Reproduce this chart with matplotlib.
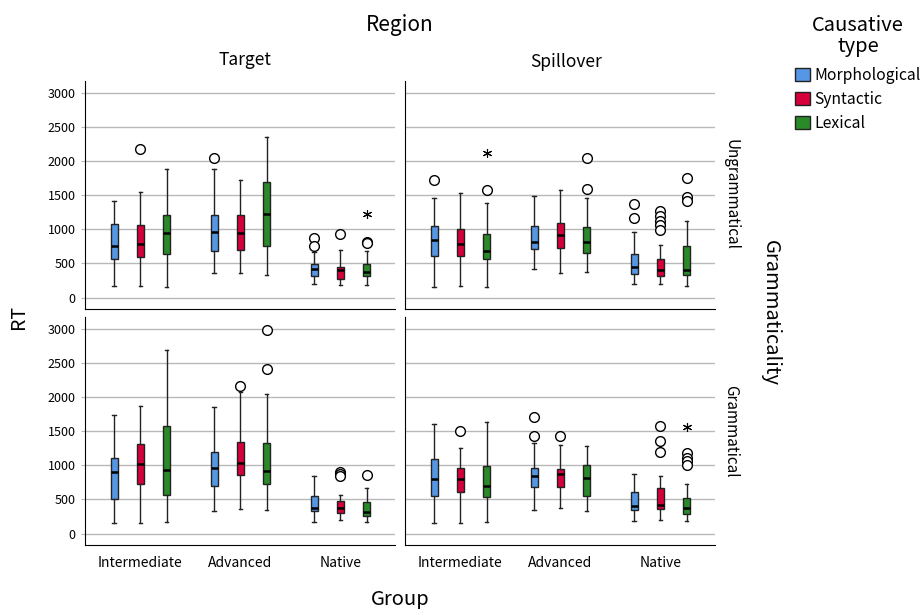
import matplotlib
matplotlib.use('Agg')
import matplotlib.pyplot as plt
from matplotlib.patches import Patch

plt.rcParams['font.family'] = ['Noto Sans CJK KR', 'DejaVu Sans']

groups = ['Intermediate', 'Advanced', 'Native']
types = ['Morphological', 'Syntactic', 'Lexical']
colors = ['#5597e4', '#d6003b', '#2a8a2a']
regions = ['Target', 'Spillover']
gram_levels = ['Ungrammatical', 'Grammatical']

# each row: [whislo, q1, med, q3, whishi], order: group x type
target_ungram = [
	[171, 557, 752, 1075, 1407], [166, 596, 782, 1055, 1539], [147, 640, 943, 1202, 1886],
	[366, 674, 958, 1202, 1876], [352, 694, 948, 1202, 1715], [332, 752, 1226, 1686, 2350],
	[195, 317, 415, 488, 669], [180, 278, 400, 449, 693], [180, 308, 376, 484, 684],
]
target_ungram_out = [[], [2179], [], [2042], [], [], [874, 752], [928], [815, 796]]
target_ungram_ext = [[], [], [], [], [], [], [], [], [1216]]

spill_ungram = [
	[151, 601, 845, 1046, 1451], [176, 606, 782, 997, 1534], [151, 562, 684, 923, 1388],
	[420, 708, 811, 1041, 1485], [362, 728, 914, 1085, 1578], [376, 655, 806, 1026, 1451],
	[191, 342, 450, 635, 963], [195, 313, 401, 567, 767], [171, 327, 401, 752, 1124],
]
spill_ungram_out = [[1725], [], [1568], [], [], [2037, 1588],
	[1368, 1168], [1265, 1192, 1124, 1055, 987], [1749, 1476, 1417]]
spill_ungram_ext = [[], [], [2121], [], [], [], [], [], []]

target_gram = [
	[147, 504, 905, 1101, 1732], [157, 729, 1023, 1307, 1870], [171, 563, 925, 1571, 2692],
	[323, 700, 954, 1194, 1855], [352, 861, 1033, 1346, 2065], [347, 724, 910, 1326, 2036],
	[176, 333, 373, 543, 847], [196, 299, 377, 480, 568], [176, 255, 314, 455, 661],
]
target_gram_out = [[], [], [], [], [2158], [2976, 2403], [], [896, 871, 847], [857]]
target_gram_ext = [[], [], [], [], [], [], [], [], []]

spill_gram = [
	[147, 548, 798, 1086, 1600], [157, 602, 793, 954, 1258], [171, 538, 690, 984, 1630],
	[338, 675, 837, 954, 1321], [367, 675, 866, 949, 1292], [323, 553, 817, 1003, 1282],
	[186, 347, 401, 602, 871], [196, 362, 416, 666, 837], [181, 279, 367, 514, 719],
]
spill_gram_out = [[], [1507], [], [1703, 1429], [1434], [], [], [1576, 1360, 1199],
	[1184, 1111, 1057, 1008]]
spill_gram_ext = [[], [], [], [], [], [], [], [], [1561]]

panels = [
	[(target_ungram, target_ungram_out, target_ungram_ext), (spill_ungram, spill_ungram_out, spill_ungram_ext)],
	[(target_gram, target_gram_out, target_gram_ext), (spill_gram, spill_gram_out, spill_gram_ext)],
]

W, H = 921, 609
fig = plt.figure(figsize=(W / 100, H / 100), dpi=100)

lefts = [85.3, 405.3]
tops = [81, 317]
aw, ah = 310, 228

offsets = [-0.263, 0, 0.263]
for r in range(2):
	for c in range(2):
		ax = fig.add_axes([lefts[c] / W, 1 - (tops[r] + ah) / H, aw / W, ah / H])
		stats, outs, exts = panels[r][c]
		bxs = []
		pos = []
		cols = []
		for gi in range(3):
			for ti in range(3):
				k = gi * 3 + ti
				lo, q1, med, q3, hi = stats[k]
				bxs.append({'whislo': lo, 'q1': q1, 'med': med, 'q3': q3, 'whishi': hi, 'fliers': outs[k]})
				pos.append(gi + offsets[ti])
				cols.append(colors[ti])
		art = ax.bxp(bxs, positions=pos, widths=0.07, patch_artist=True, manage_ticks=False,
			boxprops=dict(edgecolor='#222222', linewidth=1.0),
			whiskerprops=dict(color='#222222', linewidth=1.0),
			capprops=dict(color='#222222', linewidth=1.0),
			medianprops=dict(color='black', linewidth=1.8),
			flierprops=dict(marker='o', markerfacecolor='white', markeredgecolor='black',
				markersize=7, markeredgewidth=1.0))
		for b, col in zip(art['boxes'], cols):
			b.set_facecolor(col)
		for k in range(9):
			if exts[k]:
				ax.plot([pos[k]] * len(exts[k]), exts[k], linestyle='none', marker=(6, 2, 0),
					color='black', markersize=6.5, markeredgewidth=0.8)
		ax.set_xlim(-0.55, 2.55)
		ax.set_ylim(-168, 3170)
		ax.set_yticks(range(0, 3001, 500))
		ax.yaxis.grid(True, color='#b8b8b8', linewidth=1.0)
		ax.set_axisbelow(True)
		for s in ['top', 'right']:
			ax.spines[s].set_visible(False)
		ax.spines['left'].set_color('black')
		ax.spines['bottom'].set_color('black')
		ax.tick_params(axis='y', length=3, color='#b8b8b8', labelsize=9, pad=4)
		ax.tick_params(axis='x', length=0, labelsize=10, pad=8)
		if c == 1:
			ax.set_yticklabels([])
			ax.tick_params(axis='y', length=0)
		if r == 1:
			ax.set_xticks(range(3))
			ax.set_xticklabels(groups)
		else:
			ax.set_xticks([])

fig.text(400 / W, 1 - 25 / H, 'Region', ha='center', va='center', fontsize=15)
fig.text(245 / W, 1 - 60 / H, regions[0], ha='center', va='center', fontsize=12.5)
fig.text(566 / W, 1 - 62 / H, regions[1], ha='center', va='center', fontsize=12.5)
fig.text(731 / W, 1 - 195 / H, gram_levels[0], ha='center', va='center', rotation=-90, fontsize=11)
fig.text(731 / W, 1 - 431 / H, gram_levels[1], ha='center', va='center', rotation=-90, fontsize=11)
fig.text(770 / W, 1 - 313 / H, 'Grammaticality', ha='center', va='center', rotation=-90, fontsize=14.5)
fig.text(18 / W, 1 - 317 / H, 'RT', ha='center', va='center', rotation=90, fontsize=14)
fig.text(400 / W, 1 - 600 / H, 'Group', ha='center', va='center', fontsize=14.5)

handles = [Patch(facecolor=col, edgecolor='#222222', linewidth=1.0) for col in colors]
leg = fig.legend(handles, types, title='Causative\ntype', loc='upper left',
	bbox_to_anchor=(795 / W, 1 - 15 / H), frameon=False, fontsize=11.3,
	title_fontsize=14.5, handlelength=0.95, handleheight=0.95, handletextpad=0.3,
	labelspacing=0.45, borderaxespad=0, borderpad=0, alignment='center')
leg.get_title().set_multialignment('center')
leg.get_title().set_linespacing(1.0)
leg._legend_box.sep = 7

fig.savefig('out.png', dpi=100)
